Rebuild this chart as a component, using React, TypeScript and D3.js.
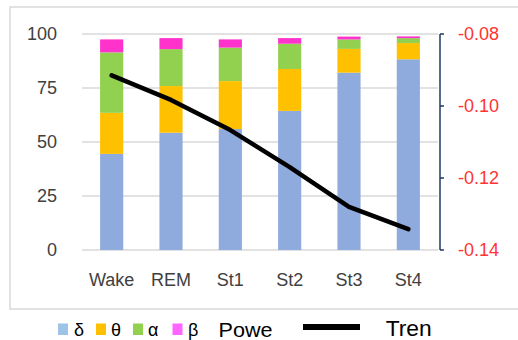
import React from "react";
import * as d3 from "d3";

const categories = ["Wake", "REM", "St1", "St2", "St3", "St4"];
const delta = [44.5, 54.3, 56.0, 64.4, 82.1, 88.3];
const theta = [19.0, 21.6, 22.2, 19.4, 11.0, 7.5];
const alpha = [28.0, 17.1, 15.5, 11.7, 4.4, 2.3];
const beta = [6.0, 5.1, 3.8, 2.6, 1.3, 0.8];
const trend = [-0.0915, -0.0983, -0.1067, -0.117, -0.128, -0.1342];
const leftTicks = [0, 25, 50, 75, 100];
const rightTicks = [-0.08, -0.1, -0.12, -0.14];
const seriesNames = ["δ", "θ", "α", "β"];
const legendPowerLabel = "Powe";
const legendTrendLabel = "Tren";

const barColors = ["#8FAADC", "#FFC000", "#92D050", "#FF33CC"];
const legendColors = ["#9DC3E6", "#FFC000", "#92D050", "#FF66FF"];

export default function App() {
  const W = 518, H = 340;
  const plotL = 82, plotR = 438, plotT = 34, plotB = 250;
  const font = "'Liberation Sans', Arial, sans-serif";

  const x = d3.scaleBand<string>().domain(categories).range([plotL, plotR]).padding(0);
  const y = d3.scaleLinear().domain([0, 100]).range([plotB, plotT]);
  const y2 = d3.scaleLinear().domain([-0.14, -0.08]).range([plotB, plotT]);
  const barW = x.bandwidth() * 0.39;

  const table = categories.map((c, i) => ({
    cat: c,
    s0: delta[i],
    s1: theta[i],
    s2: alpha[i],
    s3: beta[i],
  }));
  const stacked = d3.stack<any>().keys(["s0", "s1", "s2", "s3"])(table);

  const line = d3
    .line<number>()
    .x((_, i) => (x(categories[i]) as number) + x.bandwidth() / 2)
    .y((d) => y2(d));

  const axisX = 440;

  const legendItems = [
    { sx: 58, tx: 74 },
    { sx: 96, tx: 111 },
    { sx: 133, tx: 148 },
    { sx: 172.5, tx: 188 },
  ];

  return (
    <svg
      width={W}
      height={H}
      style={{ position: "absolute", left: 0, top: 0, background: "#fff" }}
      fontFamily={font}
    >
      <rect x={0} y={0} width={W} height={H} fill="#fff" />
      <rect x={10} y={7} width={W + 10} height={302} fill="none" stroke="#D9D9D9" strokeWidth={1.5} />
      {leftTicks.map((t) => (
        <line key={t} x1={plotL} x2={plotR} y1={y(t)} y2={y(t)} stroke="#D9D9D9" strokeWidth={1.5} />
      ))}
      {leftTicks.map((t) => (
        <text key={"l" + t} x={57} y={y(t)} textAnchor="end" dominantBaseline="central" fontSize={18} fill="#404040">
          {t}
        </text>
      ))}
      {stacked.map((s, si) => (
        <g key={si} fill={barColors[si]}>
          {s.map((d: any, i: number) => (
            <rect
              key={i}
              x={(x(categories[i]) as number) + (x.bandwidth() - barW) / 2}
              y={y(d[1])}
              width={barW}
              height={y(d[0]) - y(d[1])}
            />
          ))}
        </g>
      ))}
      {categories.map((c) => (
        <text key={c} x={(x(c) as number) + x.bandwidth() / 2} y={286} textAnchor="middle" fontSize={18} fill="#404040">
          {c}
        </text>
      ))}
      <path d={line(trend) || ""} fill="none" stroke="#000" strokeWidth={4.5} strokeLinecap="round" strokeLinejoin="round" />
      <line x1={axisX} x2={axisX} y1={y2(-0.08)} y2={y2(-0.14)} stroke="#1F3864" strokeWidth={1.5} />
      {rightTicks.map((t) => (
        <g key={t}>
          <line x1={axisX} x2={axisX + 4} y1={y2(t)} y2={y2(t)} stroke="#1F3864" strokeWidth={1.5} />
          <text x={458} y={y2(t)} dominantBaseline="central" fontSize={18} fill="#FF3333">
            {d3.format(".2f")(t).replace("−", "-")}
          </text>
        </g>
      ))}
      {seriesNames.map((n, i) => (
        <g key={n}>
          <rect x={legendItems[i].sx} y={323.5} width={10} height={11.5} fill={legendColors[i]} />
          <text x={legendItems[i].tx} y={336} fontSize={18} fill="#000">
            {n}
          </text>
        </g>
      ))}
      <text x={218.5} y={337.3} fontSize={20} fill="#000" textLength={54} lengthAdjust="spacingAndGlyphs">
        {legendPowerLabel}
      </text>
      <line x1={303} x2={360} y1={327} y2={327} stroke="#000" strokeWidth={6} />
      <text x={385.7} y={336} fontSize={22} fill="#000" textLength={46} lengthAdjust="spacingAndGlyphs">
        {legendTrendLabel}
      </text>
    </svg>
  );
}
